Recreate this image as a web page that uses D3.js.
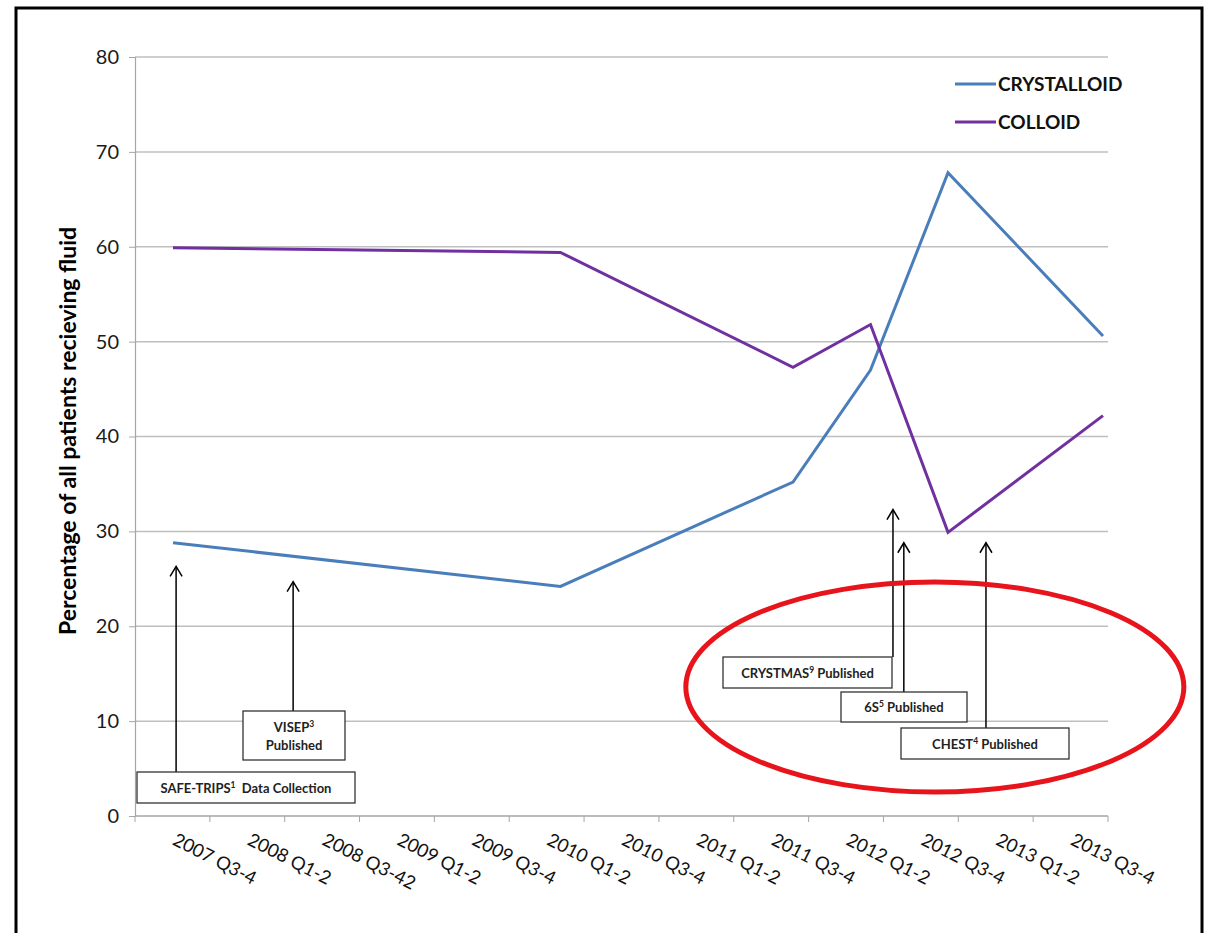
<!DOCTYPE html>
<html>
<head>
<meta charset="utf-8">
<script src="https://cdn.jsdelivr.net/npm/d3@7"></script>
<style>
  body { margin: 0; background: #fff; }
  svg text { font-family: Lato, "Open Sans", sans-serif; }
</style>
</head>
<body>
<div id="div_chart"></div>
<script>
// chart data
const categories = ["2007 Q3-4", "2008 Q1-2", "2008 Q3-42", "2009 Q1-2", "2009 Q3-4", "2010 Q1-2",
  "2010 Q3-4", "2011 Q1-2", "2011 Q3-4", "2012 Q1-2", "2012 Q3-4", "2013 Q1-2", "2013 Q3-4"];
const yTicks = [0, 10, 20, 30, 40, 50, 60, 70, 80];
// null = no survey in that period (line runs straight across)
const crystalloid = [28.8, null, null, null, null, 24.2, null, null, 35.2, 47.0, 67.8, null, 50.6];
const colloid = [59.9, null, null, null, null, 59.4, null, null, 47.3, 51.8, 29.9, null, 42.2];
const seriesNames = ["CRYSTALLOID", "COLLOID"];
const seriesColors = ["#4a7ebb", "#7030a0"];

// trial annotations: position along the category axis and value the arrow points to
const notes = [
  { lines: [["SAFE-TRIPS", "1", "  Data Collection"]], at: 0.04, tip: 26.3, box: [137, 772, 218, 31] },
  { lines: [["VISEP", "3", ""], ["Published", "", ""]], at: 1.55, tip: 24.7, box: [243, 711, 102, 49] },
  { lines: [["CRYSTMAS", "9", " Published"]], at: 9.29, tip: 32.3, box: [723, 657, 169, 31] },
  { lines: [["6S", "5", " Published"]], at: 9.43, tip: 28.8, box: [841, 692, 126, 30] },
  { lines: [["CHEST", "4", " Published"]], at: 10.49, tip: 28.8, box: [901, 728, 168, 31] }
];

const W = 1207, H = 933;
const svg = d3.select("#div_chart").append("svg")
  .attr("width", W).attr("height", H);

// outer frame
svg.append("rect")
  .attr("x", 16).attr("y", 8).attr("width", 1186).attr("height", 960)
  .attr("fill", "none").attr("stroke", "#000").attr("stroke-width", 3);

const x = d3.scaleBand().domain(categories).range([135, 1108]);
// the plotted points sit on their own spacing in the original
const xp = d3.scaleLinear().domain([0, categories.length - 1]).range([173, 1103]);
const y = d3.scaleLinear().domain([0, 80]).range([816, 57]);

// gridlines
svg.append("g").selectAll("line").data(yTicks.filter(d => d > 0)).join("line")
  .attr("x1", 135).attr("x2", 1108)
  .attr("y1", d => y(d)).attr("y2", d => y(d))
  .attr("stroke", "#bfbfbf").attr("stroke-width", 1.5);

// y axis
const yAxis = svg.append("g").attr("transform", "translate(135,0)")
  .call(d3.axisLeft(y).tickValues(yTicks).tickSize(6).tickPadding(10));
yAxis.select(".domain").attr("stroke", "#a6a6a6").attr("stroke-width", 1.2);
yAxis.selectAll(".tick line").attr("stroke", "#a6a6a6");
yAxis.selectAll(".tick text").attr("font-size", 20).attr("fill", "#1a1a1a")
  .style("font-family", "Lato, sans-serif");

// x axis: ticks between categories
const xAxisG = svg.append("g").attr("transform", "translate(0,816)");
xAxisG.append("line").attr("x1", 135).attr("x2", 1108)
  .attr("stroke", "#a6a6a6").attr("stroke-width", 1.5);
xAxisG.selectAll("line.tk").data(d3.range(categories.length + 1)).join("line")
  .attr("class", "tk")
  .attr("x1", i => 135 + i * x.step()).attr("x2", i => 135 + i * x.step())
  .attr("y1", 0).attr("y2", 6)
  .attr("stroke", "#a6a6a6");
xAxisG.selectAll("text").data(categories).join("text")
  .attr("transform", d => `translate(${x(d) + x.bandwidth() / 2 - 1},${28}) rotate(27)`)
  .attr("font-size", 18.5).attr("fill", "#111")
  .text(d => d);

// y label
svg.append("text")
  .attr("transform", "translate(76,431) rotate(-90)")
  .attr("text-anchor", "middle")
  .attr("font-size", 23).attr("font-weight", "bold")
  .text("Percentage of all patients recieving fluid");

// series lines
const line = d3.line()
  .x(d => xp(d.i))
  .y(d => y(d.v));
[crystalloid, colloid].forEach((vals, k) => {
  const pts = vals.map((v, i) => ({ i, v })).filter(d => d.v !== null);
  svg.append("path").datum(pts)
    .attr("d", line)
    .attr("fill", "none")
    .attr("stroke", seriesColors[k])
    .attr("stroke-width", 3)
    .attr("stroke-linejoin", "miter");
});

// legend
const legend = svg.append("g");
seriesNames.forEach((name, k) => {
  const ly = 84 + k * 38;
  legend.append("line").attr("x1", 955).attr("x2", 996).attr("y1", ly).attr("y2", ly)
    .attr("stroke", seriesColors[k]).attr("stroke-width", 3);
  legend.append("text").attr("x", 998).attr("y", ly + 7)
    .attr("font-size", 19).attr("font-weight", "bold").attr("fill", "#111")
    .text(name);
});

// arrows + annotation boxes
notes.forEach(n => {
  const ax = xp(n.at);
  const ty = y(n.tip);
  const [bx, by, bw, bh] = n.box;
  svg.append("line")
    .attr("x1", ax).attr("x2", ax)
    .attr("y1", by).attr("y2", ty)
    .attr("stroke", "#000").attr("stroke-width", 1.5);
  svg.append("path")
    .attr("d", `M${ax - 6},${ty + 10} L${ax},${ty} L${ax + 6},${ty + 10}`)
    .attr("fill", "none").attr("stroke", "#000").attr("stroke-width", 1.5);
  svg.append("rect")
    .attr("x", bx).attr("y", by).attr("width", bw).attr("height", bh)
    .attr("fill", "#fff").attr("stroke", "#333").attr("stroke-width", 1.3);
  const lh = 18;
  const y0 = by + bh / 2 - (n.lines.length - 1) * lh / 2 + 5;
  n.lines.forEach((parts, j) => {
    const t = svg.append("text")
      .attr("x", bx + bw / 2).attr("y", y0 + j * lh)
      .attr("text-anchor", "middle")
      .attr("font-size", 13).attr("font-weight", "bold").attr("fill", "#222")
      .attr("xml:space", "preserve");
    t.append("tspan").text(parts[0]);
    if (parts[1]) t.append("tspan").attr("font-size", 8.5).attr("dy", -5).text(parts[1]);
    if (parts[2]) t.append("tspan").attr("dy", parts[1] ? 5 : 0).text(parts[2]);
  });
});

// red highlight ellipse
svg.append("ellipse")
  .attr("cx", xp(9.83)).attr("cy", y(13.6))
  .attr("rx", 249).attr("ry", 105)
  .attr("fill", "none").attr("stroke", "#e8141c").attr("stroke-width", 5);
</script>
</body>
</html>
